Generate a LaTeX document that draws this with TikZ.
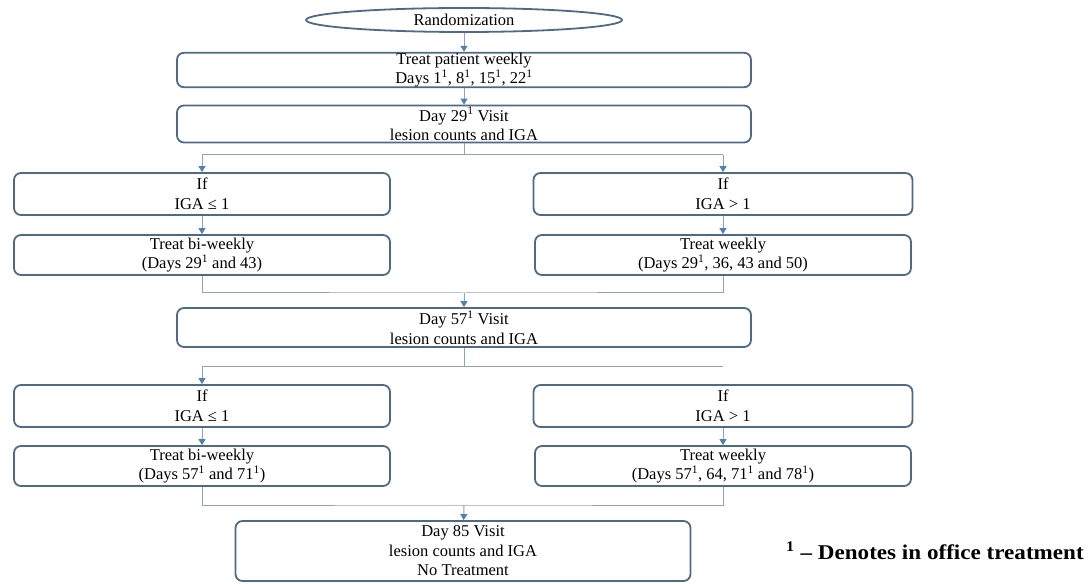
\documentclass[tikz,border=0pt]{standalone}
\usepackage{fontspec}
\setmainfont{Liberation Serif}
\usetikzlibrary{shapes.geometric,arrows.meta}
\definecolor{boxc}{HTML}{4E6A86}
\definecolor{linec}{HTML}{92A3B5}
\definecolor{arrc}{HTML}{5181B2}
\tikzset{
  box/.style={draw=boxc, line width=1.8pt, rounded corners=7pt, align=center,
    inner sep=0pt, fill=white, font=\fontsize{16.5}{19.5}\selectfont},
  link/.style={draw=linec, line width=1pt},
  arr/.style={link, -{Triangle[width=7pt,length=6pt,color=arrc,fill=arrc]}},
  note/.style={font=\fontsize{21}{24}\selectfont\bfseries, anchor=west, inner sep=0pt},
}
\begin{document}
\begin{tikzpicture}[x=1pt,y=-1pt]
\useasboundingbox (0,0) rectangle (1088,585);
\fill[white] (0,0) rectangle (1088,585);

\node[ellipse, draw=boxc, line width=1.8pt, minimum width=316pt, minimum height=24pt,
      inner sep=0pt, font=\fontsize{16.5}{19}\selectfont] (rand) at (464,20) {Randomization};
\node[box, minimum width=574pt, minimum height=34pt] (wk) at (464,70) {Treat patient weekly\\Days 1\textsuperscript{1}, 8\textsuperscript{1}, 15\textsuperscript{1}, 22\textsuperscript{1}};
\node[box, minimum width=574pt, minimum height=37pt] (d29) at (464,124) {Day 29\textsuperscript{1} Visit\\lesion counts and IGA};

\node[box, minimum width=376pt, minimum height=42pt] (i1l) at (202,194) {If\\IGA ≤ 1};
\node[box, minimum width=379pt, minimum height=42pt] (i1r) at (723,194) {If\\IGA > 1};
\node[box, minimum width=376pt, minimum height=40pt] (t1l) at (202,255) {Treat bi-weekly\\(Days 29\textsuperscript{1} and 43)};
\node[box, minimum width=376pt, minimum height=40pt] (t1r) at (723,255) {Treat weekly\\(Days 29\textsuperscript{1}, 36, 43 and 50)};

\node[box, minimum width=574pt, minimum height=39pt] (d57) at (464,327.5) {Day 57\textsuperscript{1} Visit\\lesion counts and IGA};

\node[box, minimum width=376pt, minimum height=42pt] (i2l) at (202,406) {If\\IGA ≤ 1};
\node[box, minimum width=379pt, minimum height=42pt] (i2r) at (723,406) {If\\IGA > 1};
\node[box, minimum width=376pt, minimum height=40pt] (t2l) at (202,466) {Treat bi-weekly\\(Days 57\textsuperscript{1} and 71\textsuperscript{1})};
\node[box, minimum width=376pt, minimum height=40pt] (t2r) at (723,466) {Treat weekly\\(Days 57\textsuperscript{1}, 64, 71\textsuperscript{1} and 78\textsuperscript{1})};

\node[box, minimum width=455pt, minimum height=60pt] (d85) at (463,551) {Day 85 Visit\\lesion counts and IGA\\No Treatment};

\node[note] (fn) at (786,551) {\scalebox{1.1}[1]{\textsuperscript{1} – Denotes in office treatment}};

\coordinate (s1) at (464,155);
\coordinate (m1) at (464,293);
\coordinate (s2) at (464,367);
\coordinate (m2) at (464,505);

\draw[arr] (rand) -- (wk);
\draw[arr] (wk) -- (d29);
\draw[link] (d29) -- (s1);
\draw[link] (s1 -| i1l) -- (s1 -| i1r);
\draw[arr] (s1 -| i1l) -- (i1l);
\draw[arr] (s1 -| i1r) -- (i1r);
\draw[arr] (i1l) -- (t1l);
\draw[arr] (i1r) -- (t1r);
\draw[link] (t1l.south) |- (m1) -| (t1r.south);
\draw[arr] (m1) -- (d57);
\draw[link] (d57) -- (s2);
\draw[link] (s2 -| i2l) -- (s2 -| i2r);
\draw[arr] (s2 -| i2l) -- (i2l);
\draw[arr] (i2l) -- (t2l);
\draw[arr] (i2r) -- (t2r);
\draw[link] (t2l.south) |- (m2) -| (t2r.south);
\draw[arr] (m2) -- (d85);
\end{tikzpicture}
\end{document}
